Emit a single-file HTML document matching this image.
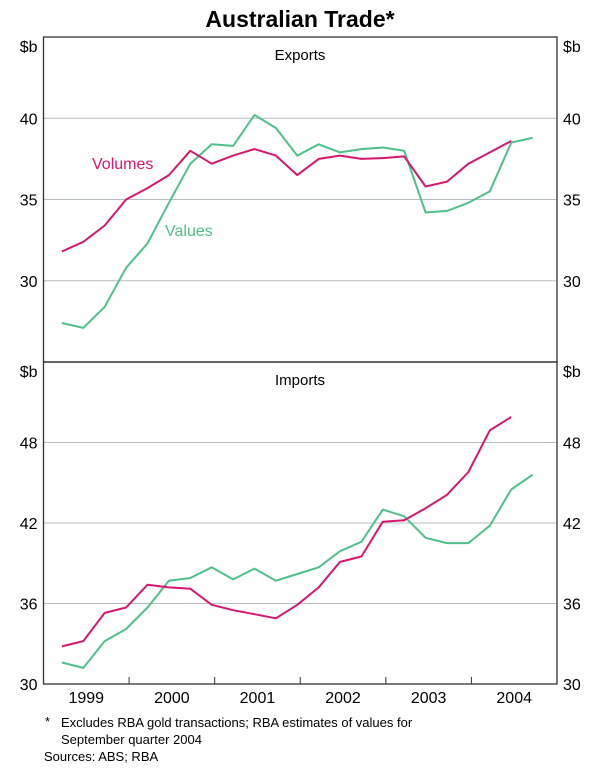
<!DOCTYPE html>
<html><head><meta charset="utf-8"><style>
body{margin:0;background:#fff;}
svg text{font-family:"Liberation Sans",Arial,sans-serif;fill:#000;}
</style></head><body>
<svg width="600" height="770" viewBox="0 0 600 770" xmlns="http://www.w3.org/2000/svg">
<text x="300" y="27" text-anchor="middle" font-size="23" font-weight="bold">Australian Trade*</text>
<g id="grid"></g>
<g id="marks"></g>
<g id="frame"></g>
<g id="labels"></g>
<text x="300" y="60" text-anchor="middle" font-size="15">Exports</text>
<text x="300" y="385" text-anchor="middle" font-size="15">Imports</text>
<text x="92" y="169" font-size="16" fill="#d6176e" style="fill:#d6176e">Volumes</text>
<text x="165" y="236" font-size="16" style="fill:#4fc08a">Values</text>
<text x="45" y="726" font-size="13">*</text>
<text x="61" y="727" font-size="13">Excludes RBA gold transactions; RBA estimates of values for</text>
<text x="61" y="744" font-size="13">September quarter 2004</text>
<text x="44" y="761" font-size="13">Sources: ABS; RBA</text>
</svg>
<script>
const years = ["1999","2000","2001","2002","2003","2004"];
const expTicks = [30,35,40];
const impTicks = [30,36,42,48];
const expVolumes = [31.8,32.4,33.4,35.0,35.7,36.5,38.0,37.2,37.7,38.1,37.7,36.5,37.5,37.7,37.5,37.55,37.65,35.8,36.1,37.2,37.9,38.6];
const expValues = [27.4,27.1,28.4,30.8,32.3,34.8,37.2,38.4,38.3,40.2,39.4,37.7,38.4,37.9,38.1,38.2,38.0,34.2,34.3,34.8,35.5,38.5,38.8];
const impVolumes = [32.8,33.2,35.3,35.7,37.4,37.2,37.1,35.9,35.5,35.2,34.9,35.9,37.2,39.1,39.5,42.1,42.2,43.1,44.1,45.8,48.9,49.9];
const impValues = [31.6,31.2,33.2,34.1,35.7,37.7,37.9,38.7,37.8,38.6,37.7,38.2,38.7,39.9,40.6,43.0,42.5,40.9,40.5,40.5,41.8,44.5,45.6];

const NS="http://www.w3.org/2000/svg";
const L=43.5, R=557;
const yearW=(R-L)/6;
function xq(i){return L+0.215*yearW+i*yearW/4;}
const panels=[
 {top:37,bot:362,min:25,max:45,ticks:expTicks,vol:expVolumes,val:expValues,name:'exports'},
 {top:362,bot:684,min:30,max:54,ticks:impTicks,vol:impVolumes,val:impValues,name:'imports'}
];
function mk(tag,attrs,parent){const e=document.createElementNS(NS,tag);for(const k in attrs)e.setAttribute(k,attrs[k]);document.getElementById(parent).appendChild(e);return e;}
panels.forEach(p=>{
 const y=v=>p.bot-(v-p.min)/(p.max-p.min)*(p.bot-p.top);
 p.ticks.forEach(t=>{
  if(t>p.min){
   const g=mk('line',{x1:L,x2:R,y1:y(t),y2:y(t),stroke:'#b8bcc4','stroke-width':1},'grid');
   
   
  }
  [[L-6,'end'],[R+6,'start']].forEach(([x,a])=>{
   const tx=mk('text',{x:x,y:y(t)+6,'text-anchor':a,'font-size':16},'labels');
   tx.textContent=t;
   
   
  });
 });
 [[L-6,'end'],[R+6,'start']].forEach(([x,a])=>{
  const tx=mk('text',{x:x,y:p.top+15,'text-anchor':a,'font-size':16},'labels');
  tx.textContent='$b';
  
  
 });
 [[p.val,'#4fc08a','values'],[p.vol,'#d6176e','volumes']].forEach(([d,c,n])=>{
  const pts=d.map((v,i)=>xq(i).toFixed(1)+','+y(v).toFixed(1)).join(' ');
  const pl=mk('polyline',{points:pts,fill:'none',stroke:c,'stroke-width':2,'stroke-linejoin':'round'},'marks');
  
  
 });
 const fr=mk('rect',{x:L,y:p.top,width:R-L,height:p.bot-p.top,fill:'none',stroke:'#333','stroke-width':1.3},'frame');
 
 
});
years.forEach((yr,i)=>{
 if(i>0){
  const t=mk('line',{x1:L+i*yearW,x2:L+i*yearW,y1:684,y2:677,stroke:'#333','stroke-width':1},'frame');
  
  
 }
 const tx=mk('text',{x:L+(i+0.5)*yearW,y:703,'text-anchor':'middle','font-size':16},'labels');
 tx.textContent=yr;
 
 
});
</script>
</body></html>
